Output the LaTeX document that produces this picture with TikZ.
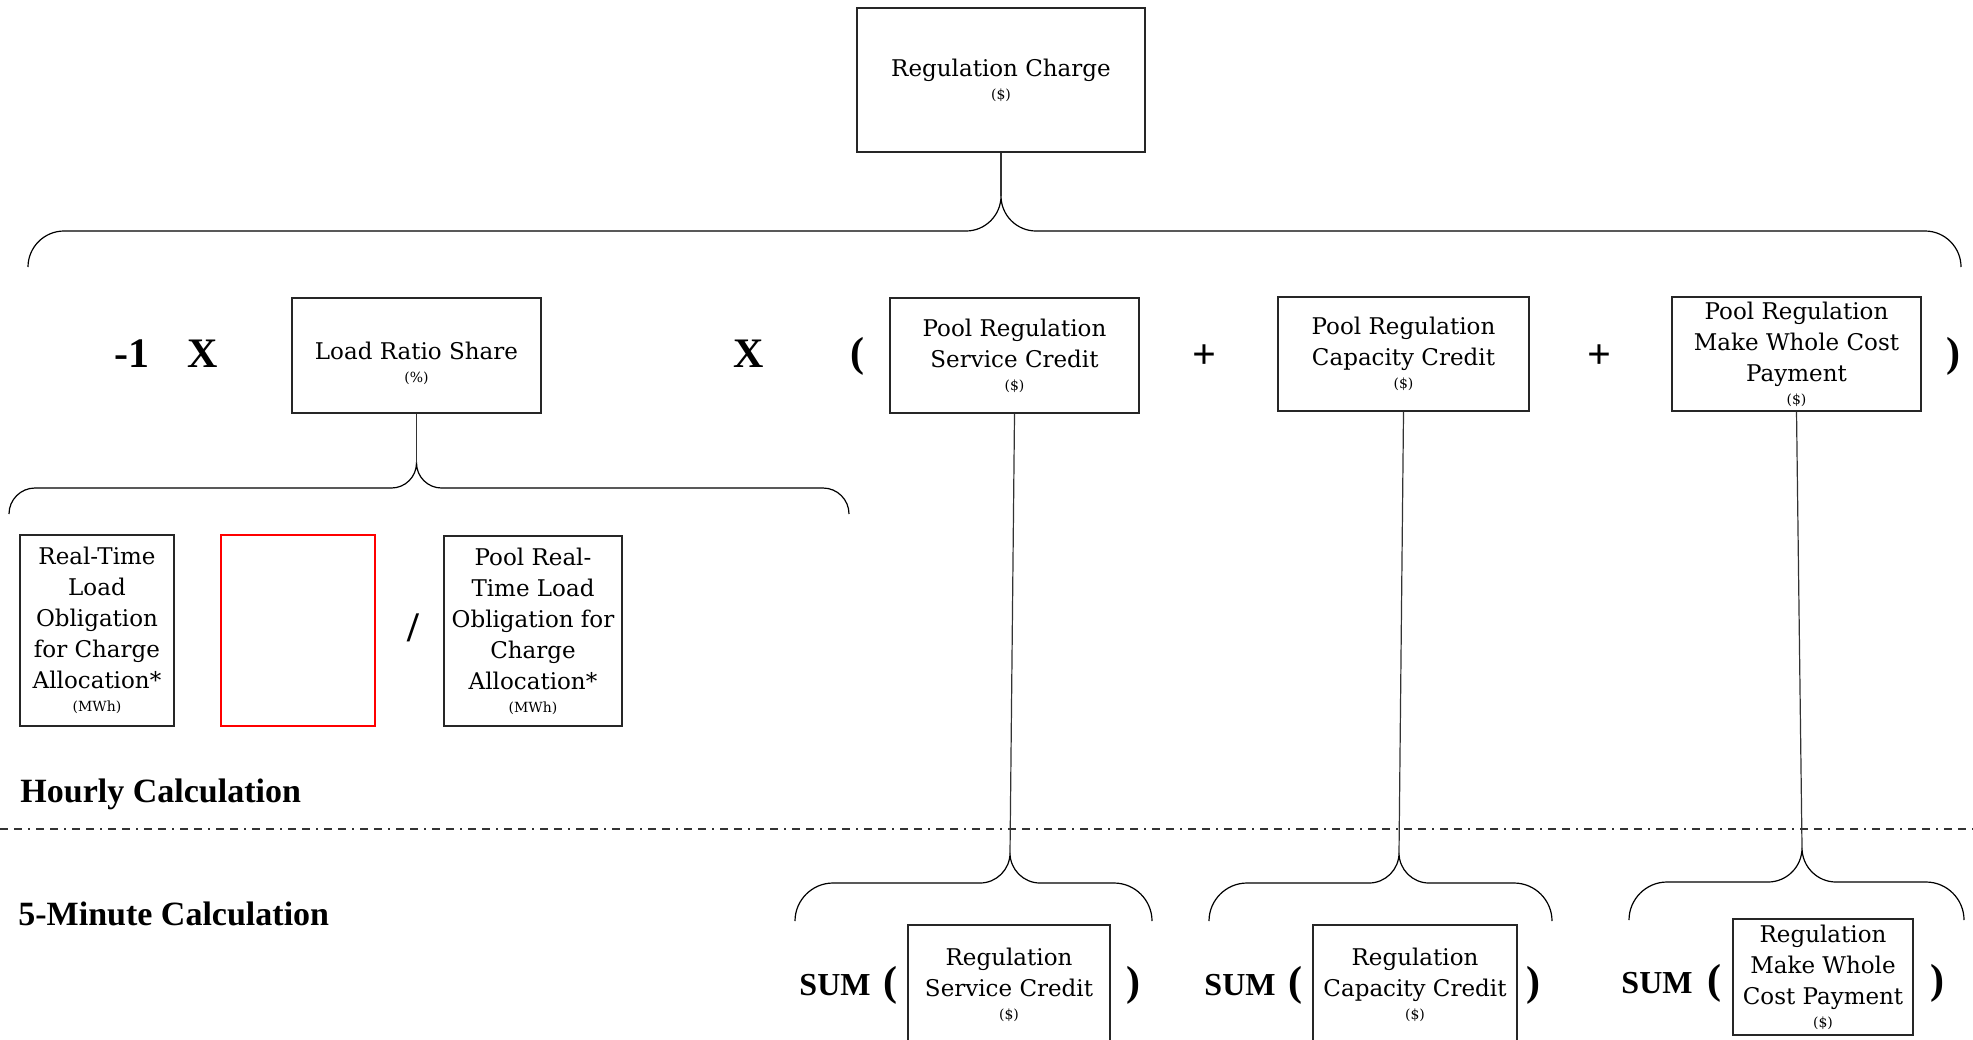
\documentclass[tikz,border=0pt]{standalone}
\usepackage{fontspec}
\setmainfont{DejaVu Serif}
\newfontfamily\opfont{Liberation Serif}
\usepackage{tikz}

% curly brace: left x, tip x, right x, end y, middle y, tip y
\newcommand{\calcbrace}[6]{%
  \draw[brace line] (#1,#4) .. controls (#1,{#4-0.55*(#4-#5)}) and ({#1+0.45*(#4-#5)},#5) .. ({#1+#4-#5},#5)
    -- ({#2-#5+#6},#5) .. controls ({#2-0.45*(#5-#6)},#5) and (#2,{#6+0.55*(#5-#6)}) .. (#2,#6)
    .. controls (#2,{#6+0.55*(#5-#6)}) and ({#2+0.45*(#5-#6)},#5) .. ({#2+#5-#6},#5)
    -- ({#3-#4+#5},#5) .. controls ({#3-0.45*(#4-#5)},#5) and (#3,{#4-0.55*(#4-#5)}) .. (#3,#4);}
\newcommand{\unitline}[1]{\\[-4pt]{\fontsize{7}{8}\selectfont(#1)}}

\begin{document}
\begin{tikzpicture}[x=0.5pt,y=-0.5pt,
  box/.style 2 args={draw=black!85, line width=0.8pt, align=center, inner sep=0pt,
    minimum width=#1*0.5pt, minimum height=#2*0.5pt, font=\fontsize{11.5}{15.5}\selectfont},
  op/.style={inner sep=0pt, font=\opfont\bfseries\fontsize{21}{24}\selectfont},
  sumlbl/.style={inner sep=0pt, font=\opfont\bfseries\fontsize{16}{18}\selectfont},
  calclbl/.style={inner sep=0pt, anchor=base west, font=\opfont\bfseries\fontsize{17}{19}\selectfont},
  brace line/.style={line width=0.6pt},
  link/.style={line width=0.6pt, black!80}]
\useasboundingbox (0,0) rectangle (1973,1039);

% top
\node[box={288}{144}] (charge) at (1001,80) {Regulation Charge\unitline{\$}};
\coordinate (topTip) at (1001,196);
\calcbrace{28}{1001}{1961}{267}{231}{196}
\draw[link] (charge.south) -- (topTip);

% hourly row
\node[op] (minusone) at (132,354) {-1};
\node[op] (timesa) at (203,354) {X};
\node[box={249}{115}] (lrs) at (416.5,355.5) {\rule{0pt}{17pt}Load Ratio Share\unitline{\%}};
\node[op] (timesb) at (749,354) {X};
\node[op] (lparen) at (857,356) {(};
\node[box={249}{115}] (psc) at (1014.5,355.5) {Pool Regulation\\Service Credit\unitline{\$}};
\node[op] (plusa) at (1204,357) {+};
\node[box={251}{114}] (pcc) at (1403.5,354) {Pool Regulation\\Capacity Credit\unitline{\$}};
\node[op] (plusb) at (1599,357) {+};
\node[box={249}{114}] (pmw) at (1796.5,354) {Pool Regulation\\Make Whole Cost\\Payment\unitline{\$}};
\node[op] (rparen) at (1953,356) {)};

\coordinate (lrsTip) at (416.5,463);
\calcbrace{9}{416.5}{849}{514}{488}{463}
\draw[link] (lrs.south) -- (lrsTip);

\node[box={154}{191}] (rtlo) at (97,630.5) {Real-Time\\Load\\Obligation\\for Charge\\Allocation*\unitline{MWh}};
\node[box={154}{191}, draw=red] (blank) at (298,630.5) {};
\node[op] (divide) at (413,628) {/};
\node[box={178}{190}] (prtlo) at (533,631) {Pool Real-\\Time Load\\Obligation for\\Charge\\Allocation*\unitline{MWh}};

\node[calclbl] (hourly) at (20,802) {Hourly Calculation};
\draw[line width=0.6pt, black!80, dash pattern=on 4pt off 3pt on 4pt off 3pt on 1pt off 3pt] (0,829) -- (1973,829);
\node[calclbl] (fivemin) at (18,925) {5-Minute Calculation};

% 5-minute row
\coordinate (rscTip) at (1010,853);
\coordinate (rccTip) at (1399,853);
\coordinate (rmwTip) at (1802,848);
\calcbrace{795}{1010}{1152}{921}{883}{853}
\calcbrace{1209}{1399}{1552}{921}{883}{853}
\calcbrace{1629}{1802}{1964}{920}{882}{848}
\draw[link] (psc.south) -- (rscTip);
\draw[link] (pcc.south) -- (rccTip);
\draw[link] (pmw.south) -- (rmwTip);

\node[sumlbl] (suma) at (835,985) {SUM};
\node[op] (suma open) at (890,985) {(};
\node[box={202}{120}] (rsc) at (1009,985) {Regulation\\Service Credit\unitline{\$}};
\node[op] (suma close) at (1133,985) {)};

\node[sumlbl] (sumb) at (1240,985) {SUM};
\node[op] (sumb open) at (1295,985) {(};
\node[box={204}{120}] (rcc) at (1415,985) {Regulation\\Capacity Credit\unitline{\$}};
\node[op] (sumb close) at (1533,985) {)};

\node[sumlbl] (sumc) at (1657,983) {SUM};
\node[op] (sumc open) at (1714,983) {(};
\node[box={180}{116}] (rmw) at (1823,977) {Regulation\\Make Whole\\Cost Payment\unitline{\$}};
\node[op] (sumc close) at (1937,983) {)};
\end{tikzpicture}
\end{document}
